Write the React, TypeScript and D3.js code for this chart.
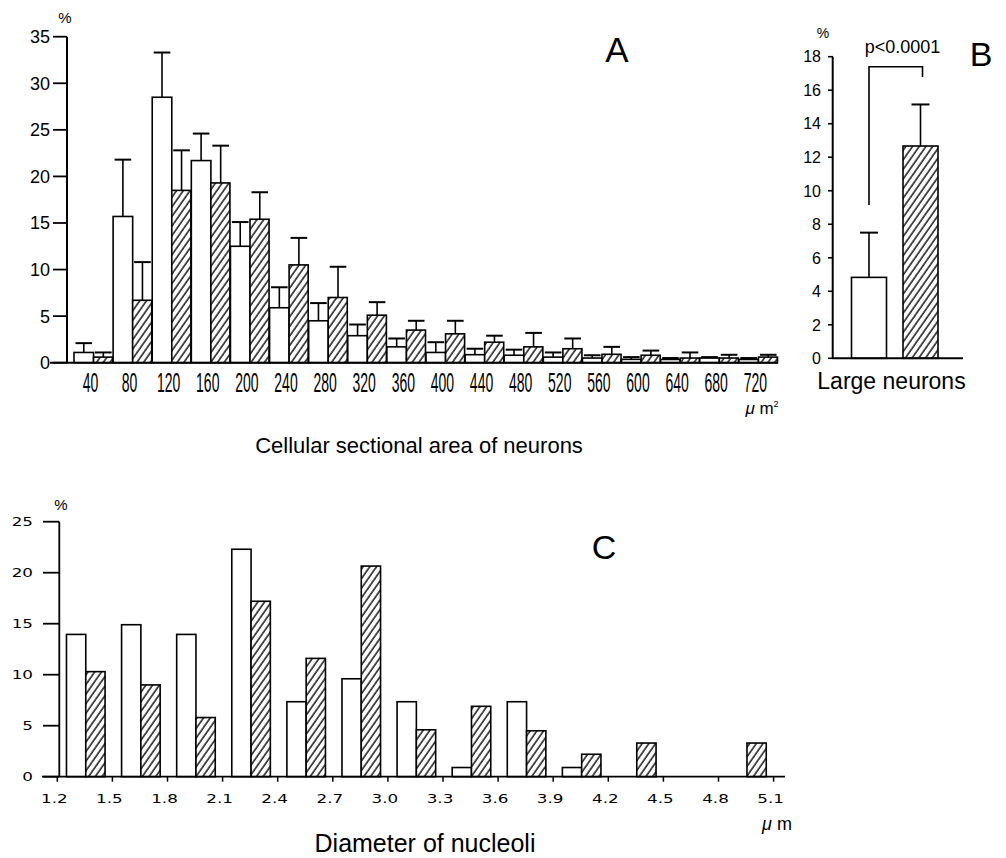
import React from "react";
import * as d3 from "d3";

// ---------- Panel A: cellular sectional area of neurons ----------
const areaBins = ["40", "80", "120", "160", "200", "240", "280", "320", "360", "400", "440", "480", "520", "560", "600", "640", "680", "720"];
const areaControl = [1.1, 15.7, 28.5, 21.7, 12.5, 5.9, 4.5, 2.9, 1.7, 1.1, 0.86, 0.8, 0.6, 0.5, 0.36, 0.35, 0.5, 0.35];
const areaControlSD = [1.0, 6.1, 4.8, 2.9, 2.6, 2.2, 1.9, 1.2, 0.9, 1.1, 0.64, 0.6, 0.5, 0.3, 0.24, 0.15, 0.1, 0.15];
const areaTreated = [0.6, 6.7, 18.5, 19.3, 15.4, 10.5, 7.0, 5.1, 3.5, 3.1, 2.2, 1.7, 1.5, 0.9, 0.8, 0.5, 0.5, 0.6];
const areaTreatedSD = [0.5, 4.1, 4.3, 4.0, 2.9, 2.9, 3.3, 1.4, 1.0, 1.4, 0.7, 1.5, 1.1, 0.8, 0.5, 0.6, 0.35, 0.25];
const areaYTicks = [0, 5, 10, 15, 20, 25, 30, 35];

// ---------- Panel B: large neurons ----------
const largeGroups = ["control", "treated"];
const largeValues = [4.83, 12.67];
const largeSD = [2.67, 2.48];
const largeYTicks = [0, 2, 4, 6, 8, 10, 12, 14, 16, 18];

// ---------- Panel C: diameter of nucleoli ----------
const nucBins = [1.2, 1.5, 1.8, 2.1, 2.4, 2.7, 3.0, 3.3, 3.6, 3.9, 4.2, 4.5, 4.8];
const nucControl = [13.95, 14.9, 13.95, 22.3, 7.35, 9.6, 7.35, 0.9, 7.35, 0.9, 0, 0, 0];
const nucTreated = [10.3, 9.0, 5.8, 17.2, 11.6, 20.65, 4.6, 6.9, 4.5, 2.2, 3.3, 0, 3.3];
const nucXTicks = ["1.2", "1.5", "1.8", "2.1", "2.4", "2.7", "3.0", "3.3", "3.6", "3.9", "4.2", "4.5", "4.8", "5.1"];
const nucYTicks = [0, 5, 10, 15, 20, 25];

const SANS = "'Liberation Sans', Arial, Helvetica, sans-serif";
const WIDE = "'DejaVu Sans', Verdana, sans-serif";

export default function App() {
  // scales A
  const xA = d3.scaleBand<string>().domain(areaBins).range([74, 778]).paddingInner(0).paddingOuter(0);
  const yA = d3.scaleLinear().domain([0, 35]).range([362.7, 36.7]);
  const bwA = xA.bandwidth();
  const halfA = bwA / 2;

  // scales B
  const xB = d3.scalePoint<string>().domain(largeGroups).range([869, 920.5]);
  const yB = d3.scaleLinear().domain([0, 18]).range([358.3, 56.7]);
  const bwB = 35;

  // scales C
  const xC = d3.scaleLinear().domain([1.2, 5.1]).range([57.3, 773.6]);
  const yC = d3.scaleLinear().domain([0, 25]).range([776.7, 521.7]);

  const errBar = (cx: number, y0: number, y1: number, capW: number, key: string) => (
    <g key={key} stroke="#000" strokeWidth={1.6}>
      <line x1={cx} x2={cx} y1={y0} y2={y1} />
      <line x1={cx - capW / 2} x2={cx + capW / 2} y1={y1} y2={y1} strokeWidth={2} />
    </g>
  );

  const SX = 1.4;

  return (
    <svg width={1006} height={858} style={{ position: "absolute", left: 0, top: 0, background: "#fff" }}>
      <defs>
        <pattern id="hatch" patternUnits="userSpaceOnUse" width={5.5} height={10} patternTransform="rotate(35)">
          <rect width={5.5} height={10} fill="#fff" />
          <line x1={1} x2={1} y1={0} y2={10} stroke="#000" strokeWidth={1.35} />
        </pattern>
      </defs>
      <rect width={1006} height={858} fill="#fff" />

      {/* ================= Panel A ================= */}
      <g>
        {areaBins.map((b, i) => {
          const x0 = xA(b)!;
          return (
            <g key={"a" + b}>
              <rect x={x0} y={yA(areaControl[i])} width={halfA} height={yA(0) - yA(areaControl[i])} fill="#fff" stroke="#000" strokeWidth={1.6} />
              <rect x={x0 + halfA} y={yA(areaTreated[i])} width={halfA - 0.5} height={yA(0) - yA(areaTreated[i])} fill="url(#hatch)" stroke="#000" strokeWidth={1.6} />
            </g>
          );
        })}
        {areaBins.map((b, i) => {
          const x0 = xA(b)!;
          return (
            <g key={"ae" + b}>
              {errBar(x0 + halfA / 2, yA(areaControl[i]), yA(areaControl[i] + areaControlSD[i]), halfA * 0.85, "c")}
              {errBar(x0 + halfA * 1.5, yA(areaTreated[i]), yA(areaTreated[i] + areaTreatedSD[i]), halfA * 0.85, "t")}
            </g>
          );
        })}
        {/* axes */}
        <line x1={50} x2={778} y1={yA(0)} y2={yA(0)} stroke="#000" strokeWidth={2} />
        <line x1={67} x2={67} y1={yA(35)} y2={yA(0)} stroke="#000" strokeWidth={2} />
        {areaYTicks.map((t) => (
          <g key={"ayt" + t}>
            <line x1={53} x2={67} y1={yA(t)} y2={yA(t)} stroke="#000" strokeWidth={1.8} />
            <text x={50} y={yA(t)} dy="0.36em" textAnchor="end" fontFamily={SANS} fontSize={18}>{t}</text>
          </g>
        ))}
        {areaBins.map((b) => (
          <text key={"axt" + b} transform={`translate(${xA(b)! + bwA * 0.42},392) scale(0.5,1)`} textAnchor="middle" fontFamily={SANS} fontSize={28}>{b}</text>
        ))}
        <text x={65} y={23} textAnchor="middle" fontFamily={SANS} fontSize={15}>%</text>
        <text x={762} y={414} textAnchor="middle" fontFamily={SANS} fontSize={17}>
          <tspan fontStyle="italic">μ</tspan> m<tspan dy={-7} fontSize={9}>2</tspan>
        </text>
        <text x={617} y={62} textAnchor="middle" fontFamily={SANS} fontSize={35}>A</text>
        <text x={419} y={453} textAnchor="middle" fontFamily={SANS} fontSize={22}>Cellular sectional area of neurons</text>
      </g>

      {/* ================= Panel B ================= */}
      <g>
        {largeGroups.map((g, i) => (
          <rect key={"b" + g} x={xB(g)! - bwB / 2} y={yB(largeValues[i])} width={bwB} height={yB(0) - yB(largeValues[i])}
            fill={i === 0 ? "#fff" : "url(#hatch)"} stroke="#000" strokeWidth={1.6} />
        ))}
        {largeGroups.map((g, i) => errBar(xB(g)!, yB(largeValues[i]), yB(largeValues[i] + largeSD[i]), 18, "be" + g))}
        <line x1={832.7} x2={963} y1={yB(0)} y2={yB(0)} stroke="#000" strokeWidth={2} />
        <line x1={832.7} x2={832.7} y1={yB(18)} y2={yB(0)} stroke="#000" strokeWidth={2} />
        {largeYTicks.map((t) => (
          <g key={"byt" + t}>
            <line x1={828} x2={833} y1={yB(t)} y2={yB(t)} stroke="#000" strokeWidth={1.6} />
            <text x={821} y={yB(t)} dy="0.36em" textAnchor="end" fontFamily={SANS} fontSize={16}>{t}</text>
          </g>
        ))}
        {/* significance bracket */}
        <path d={`M${xB("control")},205 V66.7 H${xB("treated")! + 2} V77`} fill="none" stroke="#000" strokeWidth={1.6} />
        <text x={902.5} y={53} textAnchor="middle" fontFamily={SANS} fontSize={18}>p&lt;0.0001</text>
        <text x={823} y={38} textAnchor="middle" fontFamily={SANS} fontSize={14}>%</text>
        <text x={981} y={66} textAnchor="middle" fontFamily={SANS} fontSize={34}>B</text>
        <text x={891.5} y={389} textAnchor="middle" fontFamily={SANS} fontSize={23}>Large neurons</text>
      </g>

      {/* ================= Panel C ================= */}
      <g>
        {nucBins.map((b, i) => (
          <g key={"c" + b}>
            <rect x={xC(b + 0.05)} y={yC(nucControl[i])} width={xC(b + 0.155) - xC(b + 0.05)} height={yC(0) - yC(nucControl[i])}
              fill="#fff" stroke="#000" strokeWidth={1.6} />
            {nucTreated[i] > 0 && (
              <rect x={xC(b + 0.155)} y={yC(nucTreated[i])} width={xC(b + 0.26) - xC(b + 0.155)} height={yC(0) - yC(nucTreated[i])}
                fill="url(#hatch)" stroke="#000" strokeWidth={1.6} />
            )}
          </g>
        ))}
        <line x1={42} x2={785} y1={yC(0)} y2={yC(0)} stroke="#000" strokeWidth={1.8} />
        <line x1={59.3} x2={59.3} y1={yC(25)} y2={yC(0)} stroke="#000" strokeWidth={1.8} />
        {nucYTicks.map((t) => (
          <g key={"cyt" + t}>
            <line x1={43} x2={59.3} y1={yC(t)} y2={yC(t)} stroke="#000" strokeWidth={1.8} />
            <text transform={`translate(33,${yC(t)}) scale(${SX},1)`} dy="0.36em" textAnchor="end" fontFamily={WIDE} fontSize={12}>{t}</text>
          </g>
        ))}
        {nucXTicks.map((t) => (
          <g key={"cxt" + t}>
            <line x1={xC(+t)} x2={xC(+t)} y1={yC(0)} y2={yC(0) + 5} stroke="#000" strokeWidth={1.5} />
            <text transform={`translate(${xC(+t) - 3},803) scale(${SX},1)`} textAnchor="middle" fontFamily={WIDE} fontSize={12}>{t}</text>
          </g>
        ))}
        <text x={61} y={510} textAnchor="middle" fontFamily={SANS} fontSize={15}>%</text>
        <text x={777} y={830} textAnchor="middle" fontFamily={SANS} fontSize={18}>
          <tspan fontStyle="italic">μ</tspan> m
        </text>
        <text x={604} y={559} textAnchor="middle" fontFamily={SANS} fontSize={34}>C</text>
        <text x={425} y={852} textAnchor="middle" fontFamily={SANS} fontSize={25}>Diameter of nucleoli</text>
      </g>
    </svg>
  );
}
